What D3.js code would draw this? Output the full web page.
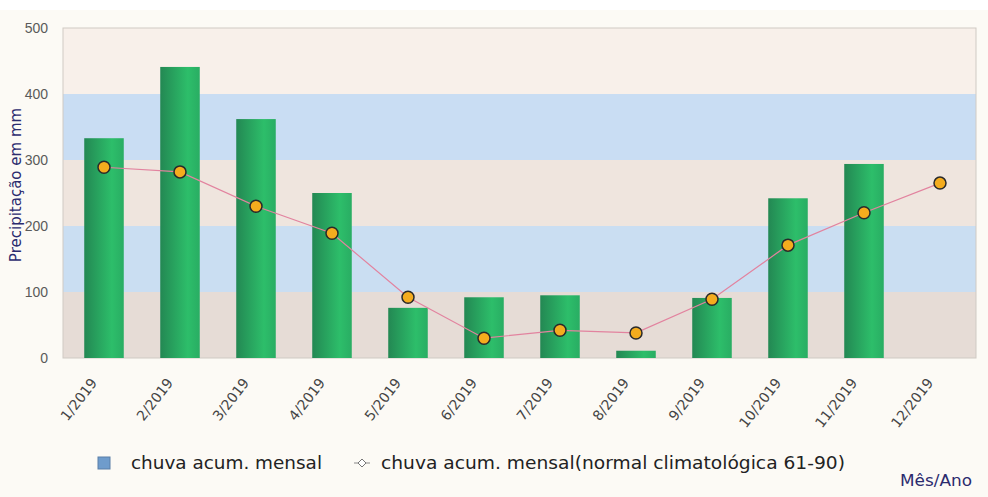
<!DOCTYPE html>
<html><head><meta charset="utf-8">
<script src="https://cdn.jsdelivr.net/npm/d3@7"></script>
<style>
html,body{margin:0;padding:0;background:#fcfaf5;}
svg{display:block;}
</style></head>
<body>
<svg id="chart" width="988" height="497"></svg>
<script>
const months = ["1/2019","2/2019","3/2019","4/2019","5/2019","6/2019","7/2019","8/2019","9/2019","10/2019","11/2019","12/2019"];
const rainfall = [333, 441, 362, 250, 76, 92, 95, 11, 91, 242, 294, null];
const normal = [289, 282, 230, 189, 92, 30, 42, 38, 89, 171, 220, 265];
const yTicks = [0, 100, 200, 300, 400, 500];
const bandColors = ["#e6dcd6", "#cadef2", "#efe5de", "#c9ddf3", "#f8f0ea"];
const barName = "chuva acum. mensal";
const lineName = "chuva acum. mensal(normal climatológica 61-90)";
const yTitle = "Precipitação em mm";
const xTitle = "Mês/Ano";

const svg = d3.select("#chart");
const m = {left: 66, right: 978, top: 28, bottom: 358};

svg.append("rect").attr("x",0).attr("y",0).attr("width",988).attr("height",10).attr("fill","#ffffff");

const x = d3.scaleBand().domain(months).range([m.left, m.right]).paddingInner(0.48).paddingOuter(0.24);
const xc = d => x(d) + x.bandwidth()/2;
const y = d3.scaleLinear().domain([0, 500]).range([m.bottom, m.top]);

const defs = svg.append("defs");
const g1 = defs.append("linearGradient").attr("id","barGrad").attr("x1","0").attr("x2","1").attr("y1","0").attr("y2","0");
g1.append("stop").attr("offset","0%").attr("stop-color","#238853");
g1.append("stop").attr("offset","70%").attr("stop-color","#2dbe6a");
g1.append("stop").attr("offset","100%").attr("stop-color","#29ad63");

// bands
svg.append("g").selectAll("rect").data(d3.range(5)).join("rect")
  .attr("x", 63).attr("width", 976 - 63)
  .attr("y", i => y(yTicks[i+1])).attr("height", i => y(yTicks[i]) - y(yTicks[i+1]))
  .attr("fill", i => bandColors[i]);
svg.append("rect").attr("x", 63).attr("y", m.top).attr("width", 976 - 63).attr("height", m.bottom - m.top)
  .attr("fill","none").attr("stroke","#cfcac4").attr("stroke-width",1);

// y axis
const yAxis = d3.axisLeft(y).tickValues(yTicks).tickSize(0).tickPadding(0);
const ya = svg.append("g").attr("transform", "translate(48,0)").call(yAxis);
ya.select(".domain").remove();
ya.selectAll("text").attr("font-family","Liberation Sans, Arial, sans-serif").attr("font-size","14px").attr("fill","#5a5a5a").attr("dy","0.35em");

svg.append("text").attr("transform","translate(21,185) rotate(-90)").attr("text-anchor","middle")
  .attr("font-family","DejaVu Sans, sans-serif").attr("font-size","15px").attr("fill","#2b2b6e").text(yTitle);

// bars
svg.append("g").selectAll("rect").data(months.map((mm,i)=>({m:mm,v:rainfall[i]})).filter(d=>d.v!=null)).join("rect")
  .attr("x", d => x(d.m)).attr("width", x.bandwidth())
  .attr("y", d => y(d.v)).attr("height", d => y(0) - y(d.v))
  .attr("fill","url(#barGrad)");

// x axis
const xAxis = d3.axisBottom(x).tickSize(0).tickPadding(0);
const xa = svg.append("g").attr("transform", `translate(0,${m.bottom})`).call(xAxis);
xa.select(".domain").remove();
xa.selectAll("text").attr("font-family","DejaVu Sans, sans-serif").attr("font-size","14px").attr("fill","#444")
  .attr("text-anchor","end").attr("transform","translate(-10,22) rotate(-52)").attr("dy","0.35em").attr("dx","0");

// line
const lineData = months.map((mm,i)=>({m:mm,v:normal[i]}));
svg.append("path").datum(lineData)
  .attr("d", d3.line().x(d => xc(d.m)).y(d => y(d.v)))
  .attr("fill","none").attr("stroke","#e2839f").attr("stroke-width",1.2);
svg.append("g").selectAll("circle").data(lineData).join("circle")
  .attr("cx", d => xc(d.m)).attr("cy", d => y(d.v)).attr("r", 6)
  .attr("fill","#f4ac1e").attr("stroke","#2a2a2a").attr("stroke-width",1.5);

// legend
const lg = svg.append("g").attr("font-family","DejaVu Sans, sans-serif").attr("font-size","18px").attr("fill","#222");
lg.append("rect").attr("x",98).attr("y",457).attr("width",12).attr("height",12).attr("fill","#6f9ccc").attr("stroke","#5a7fa8");
lg.append("text").attr("x",131).attr("y",469).attr("textLength",191).attr("lengthAdjust","spacingAndGlyphs").text(barName);
lg.append("line").attr("x1",354).attr("x2",370).attr("y1",463).attr("y2",463).attr("stroke","#888").attr("stroke-width",1);
lg.append("path").attr("d","M362,459 L366,463 L362,467 L358,463 Z").attr("fill","#fff").attr("stroke","#777");
lg.append("text").attr("x",381).attr("y",469).attr("textLength",464).attr("lengthAdjust","spacingAndGlyphs").text(lineName);

svg.append("text").attr("x",900).attr("y",486).attr("textLength",72).attr("lengthAdjust","spacingAndGlyphs")
  .attr("font-family","DejaVu Sans, sans-serif").attr("font-size","15px").attr("fill","#2b2b6e").text(xTitle);
</script>
</body></html>
